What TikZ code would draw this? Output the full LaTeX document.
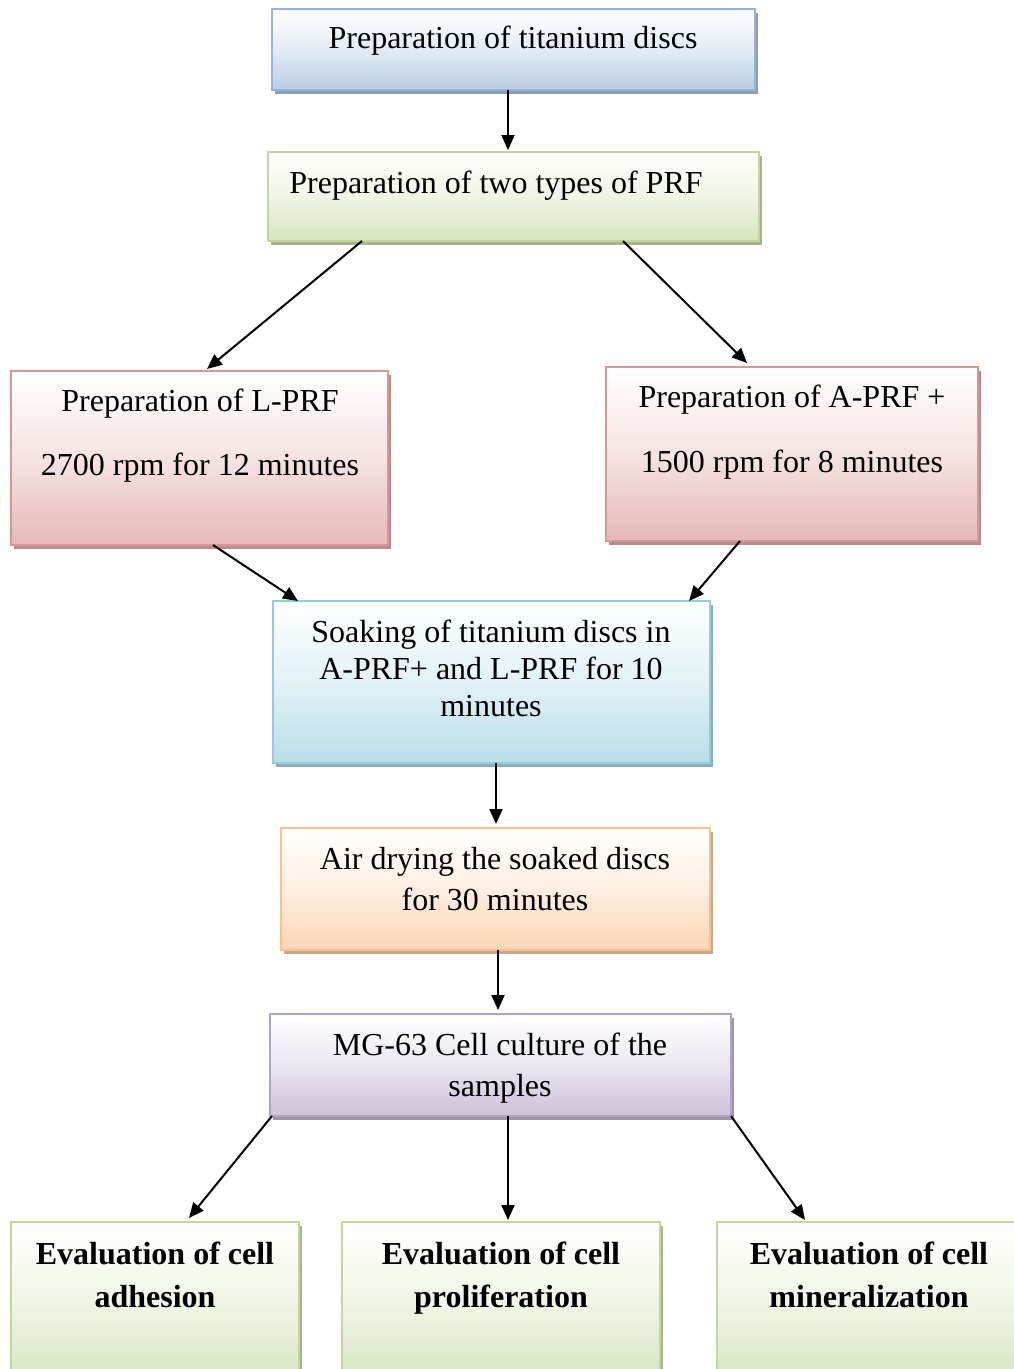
\documentclass[tikz,border=0pt]{standalone}
\usepackage{fontspec}
\setmainfont{Liberation Serif}
\usetikzlibrary{arrows.meta,shadows}
\definecolor{bluB}{HTML}{95B3D7}\definecolor{bluF}{HTML}{B9CDE5}
\definecolor{grnB}{HTML}{C3D69B}\definecolor{grnF}{HTML}{D7E4BD}
\definecolor{redB}{HTML}{D99694}\definecolor{redF}{HTML}{E6B9B8}
\definecolor{cyaB}{HTML}{93CDDD}\definecolor{cyaF}{HTML}{B7DEE8}
\definecolor{orgB}{HTML}{FAC090}\definecolor{orgF}{HTML}{FCD5B5}
\definecolor{purB}{HTML}{B3A2C7}\definecolor{purF}{HTML}{CCC1DA}
\tikzset{
  flowbox/.style 2 args={rectangle, draw=#1, line width=2pt, inner sep=0pt, outer sep=0pt,
    anchor=north west, top color=white, bottom color=#2, middle color=#2!40!white,
    drop shadow={shadow xshift=3pt, shadow yshift=-4pt, fill=#1!60!gray, opacity=1}},
  txt/.style={anchor=base, inner sep=0pt, font=\fontsize{32}{38}\selectfont},
  btxt/.style={txt, font=\fontsize{32}{38}\selectfont\bfseries},
  conn/.style={line width=2pt, -{Triangle[length=15pt,width=13pt]}}
}
\begin{document}
\begin{tikzpicture}[x=1pt,y=-1pt]
\useasboundingbox (0,0) rectangle (1014,1369);
\clip (0,0) rectangle (1014,1369);
% boxes
\node[flowbox={bluB}{bluF}, minimum width=483pt, minimum height=81pt] (b1) at (272,9) {};
\node[flowbox={grnB}{grnF}, minimum width=491pt, minimum height=89pt] (b2) at (268,152) {};
\node[flowbox={redB}{redF}, minimum width=377pt, minimum height=174pt] (b3) at (11,371) {};
\node[flowbox={redB}{redF}, minimum width=372pt, minimum height=174pt] (b4) at (606,367) {};
\node[flowbox={cyaB}{cyaF}, minimum width=437pt, minimum height=162pt] (b5) at (273,601) {};
\node[flowbox={orgB}{orgF}, minimum width=429pt, minimum height=122pt] (b6) at (281,828) {};
\node[flowbox={purB}{purF}, minimum width=461pt, minimum height=102pt] (b7) at (270,1014) {};
\node[flowbox={grnB}{grnF}, minimum width=288pt, minimum height=165pt] (b8) at (11,1222) {};
\node[flowbox={grnB}{grnF}, minimum width=318pt, minimum height=165pt] (b9) at (342,1222) {};
\node[flowbox={grnB}{grnF}, minimum width=330pt, minimum height=165pt] (b10) at (717,1222) {};
% texts
\node[txt] (t1) at (513,48) {Preparation of titanium discs};
\node[txt] (t2) at (496,193) {Preparation of two types of PRF};
\node[txt] (t3a) at (200,411) {Preparation of L-PRF};
\node[txt] (t3b) at (200,475) {2700 rpm for 12 minutes};
\node[txt] (t4a) at (792,407) {Preparation of A-PRF +};
\node[txt] (t4b) at (792,472) {1500 rpm for 8 minutes};
\node[txt] (t5a) at (491,642) {Soaking of titanium discs in};
\node[txt] (t5b) at (491,679) {A-PRF+ and L-PRF for 10};
\node[txt] (t5c) at (491,716) {minutes};
\node[txt] (t6a) at (495,869) {Air drying the soaked discs};
\node[txt] (t6b) at (495,910) {for 30 minutes};
\node[txt] (t7a) at (500,1055) {MG-63 Cell culture of the};
\node[txt] (t7b) at (500,1096) {samples};
\node[btxt] (t8a) at (155,1264) {Evaluation of cell};
\node[btxt] (t8b) at (155,1307) {adhesion};
\node[btxt] (t9a) at (501,1264) {Evaluation of cell};
\node[btxt] (t9b) at (501,1307) {proliferation};
\node[btxt] (t10a) at (869,1264) {Evaluation of cell};
\node[btxt] (t10b) at (869,1307) {mineralization};
% connectors
\draw[conn] ([xshift=236pt]b1.south west) -- ([xshift=240pt,yshift=2pt]b2.north west);
\draw[conn] ([xshift=94pt]b2.south west) -- ([xshift=196pt,yshift=2pt]b3.north west);
\draw[conn] ([xshift=355pt]b2.south west) -- ([xshift=141pt,yshift=4pt]b4.north west);
\draw[conn] ([xshift=202pt]b3.south west) -- ([xshift=25pt]b5.north west);
\draw[conn] ([xshift=134pt]b4.south west) -- ([xshift=416pt]b5.north west);
\draw[conn] ([xshift=223pt]b5.south west) -- ([xshift=215pt,yshift=4pt]b6.north west);
\draw[conn] ([xshift=217pt]b6.south west) -- ([xshift=228pt,yshift=4pt]b7.north west);
\draw[conn] ([xshift=2pt]b7.south west) -- ([xshift=178pt,yshift=4pt]b8.north west);
\draw[conn] ([xshift=238pt]b7.south west) -- ([xshift=166pt,yshift=2pt]b9.north west);
\draw[conn] (b7.south east) -- ([xshift=88pt,yshift=2pt]b10.north west);
\end{tikzpicture}
\end{document}
